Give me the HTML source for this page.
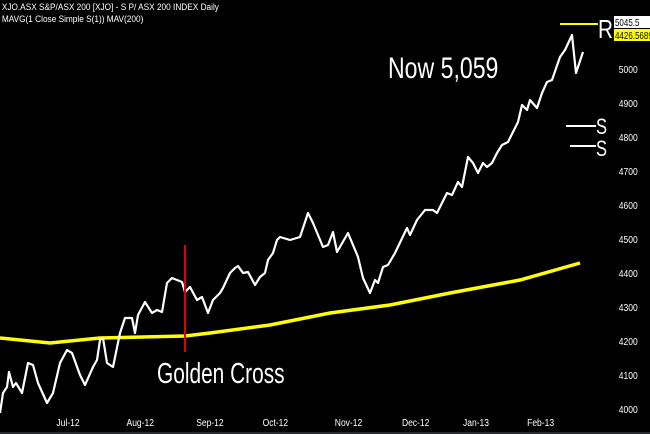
<!DOCTYPE html>
<html><head><style>
body{margin:0;background:#000;}
svg{display:block;font-family:"Liberation Sans",sans-serif;}
</style></head><body>
<svg width="650" height="434" viewBox="0 0 650 434">
<rect width="650" height="434" fill="#000"/>
<text x="2" y="10" font-size="9" fill="#fff" transform="scale(0.92,1)">XJO.ASX S&amp;P/ASX 200 [XJO] - S P/ ASX 200 INDEX Daily</text>
<text x="2" y="22" font-size="9" fill="#fff" transform="scale(0.92,1)">MAVG(1 Close Simple S(1)) MAV(200)</text>
<g font-size="10" fill="#fff" transform="scale(0.85,1)">
<text x="728" y="413">4000</text><text x="728" y="379">4100</text><text x="728" y="345">4200</text>
<text x="728" y="311">4300</text><text x="728" y="277">4400</text><text x="728" y="243">4500</text>
<text x="728" y="209">4600</text><text x="728" y="175">4700</text><text x="728" y="141">4800</text>
<text x="728" y="107">4900</text><text x="728" y="73">5000</text>
</g>
<g font-size="10" fill="#fff" text-anchor="middle" transform="scale(0.85,1)">
<text x="80" y="426">Jul-12</text><text x="165" y="426">Aug-12</text><text x="247" y="426">Sep-12</text>
<text x="324" y="426">Oct-12</text><text x="410" y="426">Nov-12</text><text x="489" y="426">Dec-12</text>
<text x="560" y="426">Jan-13</text><text x="636" y="426">Feb-13</text>
</g>
<polyline fill="none" stroke="#ffff00" stroke-width="3.5" points="0,338 50,343 100,338 185,336 210,333 270,325 330,313 390,305 450,293 520,280 580,263"/>
<polyline fill="none" stroke="#fff" stroke-width="2.2" stroke-linejoin="round" points="0,413 3,393 7,387 9,372 13,387 16,383 22,393 28,363 33,365 38,383 47,403 53,393 60,363 67,350 72,353 80,375 85,385 93,367 97,360 100,340 103,338 107,363 113,367 120,333 125,318 132,318 135,333 138,315 145,302 152,313 157,310 162,312 167,283 172,278 177,280 182,282 185,292 190,287 197,300 202,297 208,313 213,300 220,293 223,288 230,273 235,268 238,266 243,273 248,272 255,285 260,277 265,273 268,260 273,253 277,240 280,237 290,240 300,237 308,213 313,223 318,235 323,247 328,245 333,232 337,252 348,233 358,257 363,278 370,293 375,280 378,283 383,267 388,265 395,253 407,228 410,235 417,220 425,210 433,210 437,213 447,193 452,195 458,182 462,187 468,157 473,163 478,173 483,163 487,167 492,163 497,153 502,145 508,142 513,132 518,122 522,105 527,110 530,100 537,108 542,93 547,82 552,80 560,57 565,50 572,35 576,73 583,52"/>
<line x1="185" y1="245" x2="185" y2="352" stroke="#e00000" stroke-width="2"/>
<text x="157" y="383" font-size="29" fill="#fff" transform="translate(157,0) scale(0.72,1) translate(-157,0)">Golden Cross</text>
<text x="388" y="78" font-size="30" fill="#fff" transform="translate(388,0) scale(0.77,1) translate(-388,0)">Now 5,059</text>
<line x1="560" y1="24" x2="598" y2="24" stroke="#ffff00" stroke-width="2"/>
<text x="598" y="38" font-size="26" fill="#fff" transform="translate(598,0) scale(0.8,1) translate(-598,0)">R</text>
<rect x="614" y="16" width="36" height="12" fill="#fff"/>
<text x="615" y="26" font-size="10" fill="#000" transform="translate(615,0) scale(0.8,1) translate(-615,0)">5045.5</text>
<rect x="614" y="29" width="36" height="12" fill="#ffff00"/>
<text x="615" y="39" font-size="10" fill="#000" transform="translate(615,0) scale(0.8,1) translate(-615,0)">4426.56899</text>
<line x1="566" y1="126" x2="596" y2="126" stroke="#fff" stroke-width="2"/>
<text x="596" y="134" font-size="22" fill="#fff" transform="translate(596,0) scale(0.75,1) translate(-596,0)">S</text>
<line x1="570" y1="146" x2="596" y2="146" stroke="#fff" stroke-width="2"/>
<text x="596" y="156" font-size="22" fill="#fff" transform="translate(596,0) scale(0.75,1) translate(-596,0)">S</text>
<line x1="0" y1="433" x2="650" y2="433" stroke="#556" stroke-width="1"/>
</svg>
</body></html>
